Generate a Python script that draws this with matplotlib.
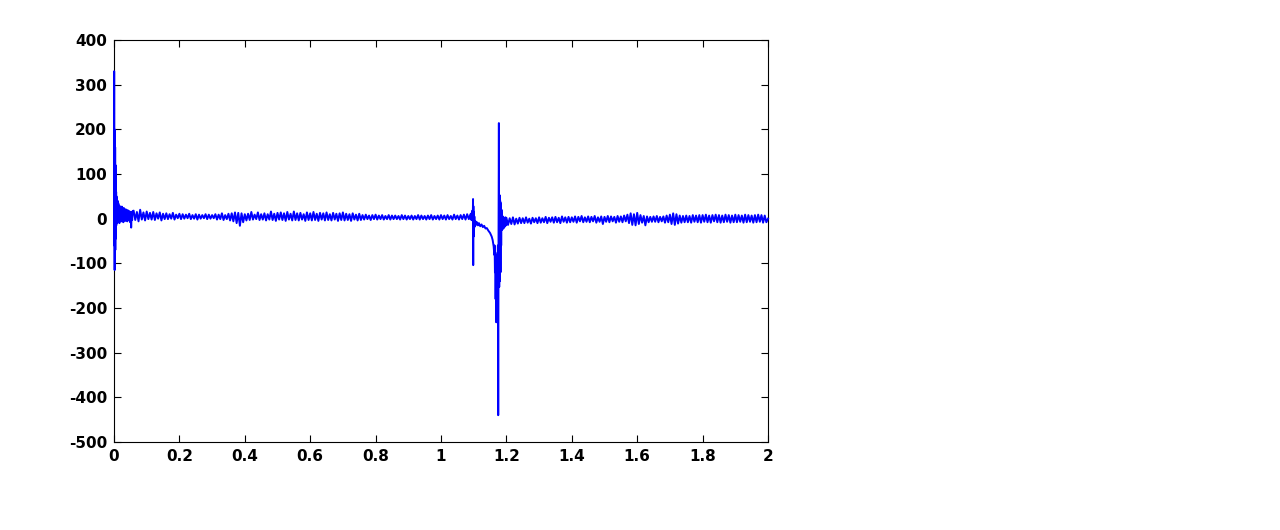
import numpy as np
import matplotlib
matplotlib.use('Agg')
import matplotlib.pyplot as plt

plt.rcParams['axes.unicode_minus'] = False

# Start-up transient (time, value)
start_t = [0, 0.0005, 0.001, 0.0015, 0.002, 0.0025, 0.003, 0.0035, 0.004, 0.0045,
           0.005, 0.0055, 0.006, 0.0065, 0.007, 0.0075, 0.008, 0.009, 0.010, 0.011,
           0.012, 0.013, 0.014, 0.015, 0.0165, 0.018, 0.0195, 0.021, 0.0225, 0.024,
           0.0255, 0.027, 0.0285, 0.030, 0.0315, 0.033, 0.0345, 0.036, 0.0375, 0.039,
           0.0405, 0.042, 0.0435, 0.045, 0.0465, 0.048, 0.0495, 0.051, 0.0525, 0.054,
           0.0555, 0.057]
start_v = [0, 330, -60, 200, -115, 195, -100, 160, -70, 120,
           -45, 80, -30, 60, -15, 50, -10, 46, -8, 40,
           -5, 35, -3, 30, -10, 28, 0, 25, -6, 27,
           -2, 22, -8, 24, -3, 20, -5, 21, -2, 18,
           -6, 19, -1, 17, -4, 16, -8, 15, -20, 14,
           -3, 17]

# Noise band from 0.06 to 1.085 (sampled every 0.005)
band1_t0, band1_step = 0.06, 0.005
band1_v = [18, -3, 15, -6, 20, -2, 14, -4, 16, -1,
           13, -2, 15, -3, 12, 0, 14, -4, 11, -1,
           12, -1, 10, 0, 13, -2, 9, 1, 11, -1,
           10, 0, 9, 1, 11, -1, 8, 0, 10, -2,
           9, 0, 8, 1, 10, -1, 9, 0, 8, 1,
           10, -2, 9, -1, 12, -3, 8, -1, 11, -4,
           12, -6, 14, -10, 13, -16, 12, -8, 10, -4,
           11, -3, 15, -2, 9, -1, 14, -3, 10, -2,
           12, -4, 10, -2, 16, -3, 11, -5, 13, -2,
           14, -3, 12, -5, 15, -2, 11, -4, 16, -3,
           12, -4, 13, -2, 10, -5, 14, -3, 12, -4,
           15, -3, 11, -5, 13, -2, 12, -4, 14, -3,
           10, -4, 13, -2, 11, -5, 12, -3, 14, -4,
           11, -3, 10, -5, 12, -2, 9, -4, 11, -3,
           8, -2, 9, -1, 7, -3, 8, -1, 9, -2,
           7, -1, 8, -2, 6, -1, 8, -2, 7, -1,
           7, -1, 6, -2, 8, -1, 7, -2, 6, -1,
           7, -2, 6, -1, 8, -2, 7, -1, 6, -2,
           7, -1, 8, -2, 6, -1, 7, -2, 8, -1,
           7, -2, 8, -1, 6, -2, 9, -1, 7, -2,
           8, -1, 9, -2, 10, -1]

# Fault event around 1.1 - 1.2 s (time, value)
event_t = [1.090, 1.0915, 1.093, 1.0945, 1.096, 1.097, 1.098, 1.0985, 1.099, 1.0995,
           1.100, 1.101, 1.102, 1.103, 1.105, 1.107, 1.110, 1.113, 1.116, 1.120,
           1.124, 1.128, 1.132, 1.136, 1.140, 1.145, 1.150, 1.155, 1.158, 1.161,
           1.163, 1.164, 1.165, 1.166, 1.167, 1.168, 1.169, 1.170, 1.171, 1.172,
           1.173, 1.174, 1.175, 1.176, 1.177, 1.178, 1.179, 1.180, 1.181, 1.182,
           1.183, 1.184, 1.185, 1.187, 1.189, 1.191, 1.193, 1.195, 1.197, 1.199]
event_v = [10, -2, 12, -3, 18, -5, 44, -104, 28, -40,
           15, -25, 5, -18, -5, -14, -8, -15, -10, -17,
           -13, -19, -16, -22, -21, -27, -32, -40, -48, -62,
           -81, -60, -120, -75, -180, -90, -232, -100, -210, -80,
           -220, -60, -440, -30, 214, -153, 53, -140, 40, -120,
           35, -60, 20, -25, 5, -22, 2, -18, 3, -15]

# Noise band from 1.2 to 1.995 (sampled every 0.005)
band2_t0, band2_step = 1.2, 0.005
band2_v = [2, -14, 1, -12, 3, -13, 0, -11, 2, -10,
           1, -10, 3, -9, 0, -11, 2, -8, 1, -10,
           3, -9, 1, -8, 4, -10, 2, -7, 3, -9,
           4, -8, 2, -10, 5, -7, 3, -9, 4, -8,
           3, -7, 5, -9, 4, -6, 6, -8, 3, -7,
           5, -8, 4, -6, 6, -9, 3, -7, 5, -12,
           4, -7, 6, -8, 5, -6, 4, -9, 6, -7,
           5, -8, 7, -6, 9, -10, 12, -14, 10, -15,
           13, -12, 8, -9, 6, -15, 5, -8, 4, -7,
           5, -7, 6, -8, 4, -6, 5, -9, 7, -8,
           9, -12, 12, -14, 10, -11, 7, -9, 6, -8,
           7, -8, 6, -9, 8, -7, 7, -8, 8, -9,
           8, -7, 9, -8, 7, -9, 8, -6, 9, -8,
           8, -9, 7, -8, 9, -7, 8, -9, 7, -8,
           9, -8, 8, -7, 7, -9, 9, -8, 8, -7,
           7, -9, 8, -8, 9, -7, 8, -9, 7, -8]

end_t = [2.0]
end_v = [0]

band1_t = band1_t0 + band1_step * np.arange(len(band1_v))
band2_t = band2_t0 + band2_step * np.arange(len(band2_v))

t = np.concatenate([start_t, band1_t, event_t, band2_t, end_t])
v = np.concatenate([start_v, band1_v, event_v, band2_v, end_v])

fig = plt.figure(figsize=(12.8, 5.3), dpi=100)
ax = fig.add_axes([114 / 1280, 88 / 530, 654 / 1280, 402 / 530])

# line drawn above the spines, like the original
ax.plot(t, v, color='#0000ff', linewidth=1.4, zorder=3, clip_on=False)

ax.set_xlim(0, 2)
ax.set_ylim(-500, 400)
ax.set_xticks(np.arange(0, 2.01, 0.2))
ax.set_xticklabels(['0', '0.2', '0.4', '0.6', '0.8', '1', '1.2', '1.4', '1.6', '1.8', '2'])
ax.set_yticks(np.arange(-500, 401, 100))

ax.tick_params(direction='in', length=5, width=0.8, top=True, right=True,
               labelsize=11, pad=5)
for lab in ax.get_xticklabels() + ax.get_yticklabels():
    lab.set_fontfamily('DejaVu Sans')
    lab.set_fontweight('bold')
for s in ax.spines.values():
    s.set_linewidth(0.8)

fig.savefig('out.png', dpi=100)
